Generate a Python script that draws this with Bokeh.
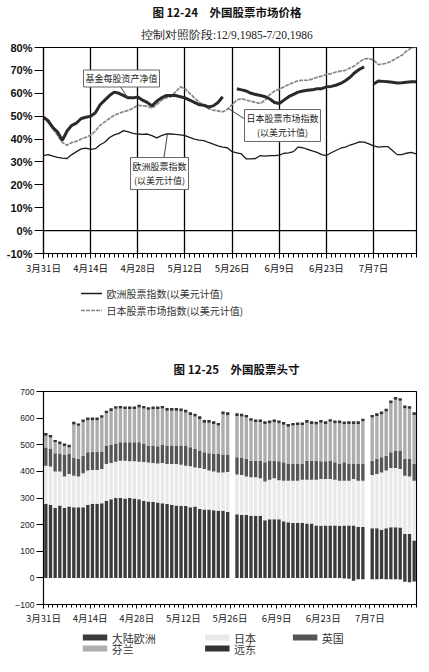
import numpy as np
import pandas as pd
from bokeh.plotting import figure
from bokeh.layouts import column
from bokeh.models import Range1d, FixedTicker, Label, Span
from bokeh.core.properties import value
from bokeh.embed import file_html
from bokeh.resources import INLINE

CJK = "Noto Sans CJK SC"

# ---------------- data ----------------
weekdays = pd.bdate_range("1986-03-31", "1986-07-18")          # 80 weekday slots
us_holidays = pd.to_datetime(["1986-05-26", "1986-07-04"])
tick_dates = pd.to_datetime(["1986-03-31", "1986-04-14", "1986-04-28", "1986-05-12",
                             "1986-05-26", "1986-06-09", "1986-06-23", "1986-07-07"])
tick_labels = ["3月31日", "4月14日", "4月28日", "5月12日", "5月26日", "6月9日", "6月23日", "7月7日"]

# Figure 12-24 (percent), one value per weekday
europe_index = [32.8, 33.2, 32.5, 32.0, 31.7, 31.5, 33.2, 34.5, 35.7, 36.0,
                35.5, 35.8, 37.5, 38.6, 40.7, 41.8, 42.5, 43.7, 43.1, 42.5,
                42.2, 42.0, 42.2, 41.5, 40.5, 41.5, 42.2, 42.2, 42.0, 41.8,
                41.5, 40.7, 40.0, 39.5, 39.3, 38.5, 37.8, 37.0, 36.5, 36.2,
                34.5, 34.0, 33.5, 31.3, 31.3, 31.5, 32.8, 32.5, 32.8, 32.8,
                33.0, 33.8, 34.0, 34.5, 36.5, 36.2, 35.5, 34.8, 34.2, 33.2,
                32.8, 34.0, 35.0, 36.0, 36.5, 37.4, 38.0, 38.8, 38.7, 37.9,
                37.0, 36.5, 36.7, 36.7, 35.0, 33.2, 33.2, 33.8, 34.2, 33.5]
japan_index = [49.6, 47.0, 44.6, 41.5, 38.5, 37.3, 38.5, 39.0, 40.0, 40.8,
               41.7, 43.5, 46.0, 47.5, 49.0, 50.4, 51.2, 52.0, 52.5, 53.5,
               54.8, 54.5, 54.4, 53.5, 55.0, 57.0, 58.0, 58.4, 60.6, 62.8,
               62.0, 60.0, 58.0, 56.2, 54.5, 53.3, 52.6, 52.3, 51.9, 53.0,
               55.0, 57.0, 57.7, 57.0, 56.5, 56.0, 55.5, 57.0, 59.5, 61.0,
               61.8, 62.8, 63.8, 64.7, 65.5, 65.7, 65.7, 66.2, 67.0, 67.5,
               68.3, 68.6, 69.3, 69.7, 70.0, 71.0, 72.0, 73.7, 75.0, 75.2,
               74.5, 72.5, 72.8, 73.3, 74.3, 75.5, 76.6, 78.5, 79.8, 80.3]
nan = float("nan")
fund_nav = [49.6, 48.0, 45.0, 43.0, 39.5, 43.5, 46.0, 47.0, 49.0, 49.5,
            50.0, 51.5, 55.0, 57.0, 59.0, 60.5, 60.0, 59.0, 58.0, 58.0,
            58.4, 57.0, 56.0, 54.5, 56.5, 58.0, 59.0, 59.0, 59.0, 58.5,
            58.0, 57.0, 56.0, 55.0, 54.8, 54.0, 54.5, 56.0, 58.5, nan,
            nan, 62.0, 61.5, 61.0, 60.0, 59.5, 59.0, 58.5, 57.5, 56.0,
            55.5, 57.0, 58.5, 59.5, 60.5, 61.0, 61.3, 61.5, 62.0, 62.0,
            62.8, 63.0, 63.5, 64.3, 65.5, 67.0, 69.0, 70.5, 71.5, nan,
            64.0, 65.4, 65.2, 65.0, 64.8, 64.5, 64.6, 64.8, 65.0, 65.0]

# Figure 12-25 (million USD), one value per US trading day
pos_continental = [278, 275, 262, 272, 262, 268, 265, 265, 265, 275,
                   278, 278, 280, 290, 295, 300, 300, 298, 300, 298,
                   295, 290, 287, 285, 283, 280, 277, 275, 272, 270,
                   270, 265, 268, 259, 257, 257, 254, 252, 252, 247,
                   239, 236, 236, 233, 233, 233, 216, 220, 220, 220,
                   213, 209, 206, 206, 206, 204, 204, 197, 196, 197,
                   197, 197, 195, 197, 197, 197, 191, 191,
                   186, 186, 181, 186, 190, 190, 189, 165, 165, 140]
pos_japan = [143, 143, 138, 128, 119, 122, 119, 116, 128, 128,
             127, 127, 129, 138, 136, 136, 140, 142, 138, 140,
             141, 145, 146, 146, 147, 151, 151, 153, 156, 155,
             151, 154, 147, 154, 152, 146, 146, 144, 144, 151,
             149, 150, 145, 145, 145, 141, 146, 149, 154, 147,
             152, 156, 159, 159, 163, 165, 165, 172, 175, 174,
             174, 172, 170, 168, 168, 174, 174, 174,
             200, 204, 215, 217, 223, 223, 220, 219, 216, 225]
pos_uk = [69, 66, 68, 65, 82, 75, 66, 66, 66, 69,
          69, 69, 66, 69, 68, 69, 69, 69, 71, 71,
          73, 70, 64, 66, 64, 68, 69, 69, 69, 72,
          76, 72, 69, 65, 63, 65, 65, 69, 67, 65,
          65, 64, 66, 62, 62, 66, 72, 71, 66, 71,
          69, 65, 65, 63, 59, 71, 71, 71, 67, 67,
          69, 65, 63, 69, 65, 59, 63, 63,
          54, 57, 57, 56, 59, 65, 69, 63, 66, 63]
pos_finland = [44, 43, 41, 37, 32, 25, 126, 124, 126, 120,
               118, 118, 126, 121, 128, 130, 127, 125, 125, 125,
               131, 131, 134, 137, 140, 137, 131, 131, 131, 129,
               124, 121, 122, 119, 111, 115, 113, 107, 152, 149,
               155, 156, 155, 150, 145, 145, 144, 141, 145, 143,
               141, 138, 142, 146, 146, 143, 138, 136, 145, 140,
               146, 147, 153, 143, 148, 148, 150, 160,
               162, 161, 162, 166, 184, 191, 187, 190, 188, 184]
pos_far_east = [10, 10, 9, 10, 10, 10, 10, 9, 10, 10,
                10, 10, 10, 10, 10, 10, 10, 10, 10, 10,
                10, 10, 10, 10, 10, 10, 10, 10, 10, 10,
                10, 10, 10, 10, 10, 10, 10, 10, 10, 10,
                10, 10, 10, 10, 10, 10, 10, 10, 10, 10,
                10, 10, 10, 10, 10, 10, 10, 10, 10, 10,
                10, 10, 10, 10, 10, 10, 10, 10,
                10, 10, 10, 10, 10, 10, 10, 10, 10, 10]
pos_net_other = [0, 0, 0, 0, 0, 0, 0, 0, 0, 0,
                 0, 0, 0, 0, 0, 0, 0, 0, 0, 0,
                 0, 0, 0, 0, 0, 0, 0, 0, 0, 0,
                 0, 0, 0, 0, 0, 0, 0, 0, 0, 0,
                 0, 0, 0, 0, 0, 0, 0, 0, 0, 0,
                 0, 0, 0, 0, 0, 0, 0, 0, 0, 0,
                 0, 0, 0, -2, -3, -11, -5, -5,
                 -5, -5, -4, -5, -5, -5, -6, -15, -16, -14]
position_names = ["大陆欧洲", "日本", "英国", "芬兰", "远东"]
position_colors = ["#3b3b3b", "#e9e9e9", "#555555", "#adadad", "#333333"]

# ---------------- helpers ----------------
day_pos = np.arange(len(weekdays))
tick_pos = [int(i) for i in weekdays.get_indexer(tick_dates)]
trade_days = weekdays[~weekdays.isin(us_holidays)]
bar_x = weekdays.get_indexer(trade_days) + 0.5
label_over = {t: l for t, l in zip(tick_pos, tick_labels)}

W = 427


def canvas(h):
    p = figure(width=W, height=h, x_range=Range1d(0, W), y_range=Range1d(h, 0),
               toolbar_location=None, output_backend="svg", min_border=0,
               x_axis_type=None, y_axis_type=None)
    p.outline_line_color = None
    p.grid.visible = False
    return p


# header (page y 0..40)
head = canvas(40)
head.text(x=[210], y=[11], text=["图 12-24　外国股票市场价格"], text_font=value(CJK),
          text_font_size=value("11.5px"), text_font_style="bold", text_align="center",
          text_baseline="middle", text_color="#111111")
head.text(x=[210], y=[34], text=["控制对照阶段:12/9,1985-7/20,1986"],
          text_font=value("Liberation Serif"), text_font_size=value("11.5px"),
          text_align="center", text_baseline="middle", text_color="#222222")

# chart 1 (page y 40..280), frame x 43..416, y 47..253
X0, X1 = 0, 79.1
p1 = figure(width=W, height=240, x_range=Range1d(X0, X1), y_range=Range1d(-10, 80),
            toolbar_location=None, output_backend="svg",
            min_border_left=43, min_border_right=W - 416, min_border_top=7, min_border_bottom=27)
p1.xaxis.ticker = FixedTicker(ticks=tick_pos, minor_ticks=list(range(0, 80)))
p1.xaxis.major_label_overrides = label_over
p1.yaxis.ticker = FixedTicker(ticks=list(range(-10, 81, 10)))
p1.yaxis.major_label_overrides = {v: f"{v}%" for v in range(-10, 81, 10)}
p1.xaxis.major_tick_in = 0
p1.xaxis.major_tick_out = 5
p1.xaxis.minor_tick_in = 0
p1.xaxis.minor_tick_out = 4
p1.xaxis.major_label_standoff = 2
p1.xaxis.major_label_text_font = CJK
p1.xaxis.major_label_text_font_size = "9.5px"
p1.yaxis.major_tick_in = 0
p1.yaxis.major_tick_out = 9
p1.yaxis.minor_tick_out = 0
p1.yaxis.major_label_standoff = 2
p1.yaxis.major_label_text_font = "Liberation Sans"
p1.yaxis.major_label_text_font_style = "bold"
p1.yaxis.major_label_text_font_size = "11px"
for ax in (p1.xaxis, p1.yaxis):
    ax.axis_line_color = "black"
    ax.axis_line_width = 1.2
    ax.major_tick_line_color = "black"
    ax.major_label_text_color = "#111111"
p1.xgrid.grid_line_color = "black"
p1.xgrid.grid_line_width = 1.3
p1.ygrid.visible = False
p1.outline_line_color = "black"
p1.outline_line_width = 1.2
p1.add_layout(Span(location=0, dimension="width", line_color="black", line_width=1.3))

p1.line(day_pos, europe_index, line_color="#1c1c1c", line_width=1.3)
p1.line(day_pos, japan_index, line_color="#858585", line_width=1.7, line_dash="4 1")
p1.line(day_pos, np.array(fund_nav, dtype=float), line_color="#2a2a2a", line_width=3)


def t1(X, Y):
    return (X - 43) * (X1 - X0) / 373 + X0, 80 - (Y - 47) * 90 / 206


for (a, b) in [((118, 83), (127, 97)), ((245, 119), (228, 108)), ((163, 160), (167, 133))]:
    xa, ya = t1(*a)
    xb, yb = t1(*b)
    p1.segment(x0=[xa], y0=[ya], x1=[xb], y1=[yb], line_color="#444444", line_width=1)

for (cx, cy), txt in [((121, 78), "基金每股资产净值"),
                      ((282, 125), "日本股票市场指数\n(以美元计值)"),
                      ((159, 173), "欧洲股票指数\n(以美元计值)")]:
    lx, ly = t1(cx, cy)
    p1.add_layout(Label(x=lx, y=ly, text=txt, text_align="center", text_baseline="middle",
                        text_font=CJK, text_font_size="9px", text_color="#222222",
                        text_line_height=1.15,
                        border_line_color="#666666", border_line_width=1,
                        background_fill_color="white", padding=2))

# legend 1 (page y 280..320)
leg1 = canvas(40)
leg1.line([43, 67], [13, 13], line_color="#1c1c1c", line_width=1.5)
leg1.line([43, 67], [30, 30], line_color="#858585", line_width=1.5, line_dash="4 1")
leg1.text(x=[72, 72], y=[13, 30], text=["欧洲股票指数(以美元计值)", "日本股票市场指数(以美元计值)"],
          text_font=value(CJK), text_font_size=value("10px"), text_align="left",
          text_baseline="middle", text_color="#333333")

# title 2 (page y 320..384)
tit2 = canvas(64)
tit2.text(x=[221], y=[48], text=["图 12-25　外国股票头寸"], text_font=value(CJK),
          text_font_size=value("11.5px"), text_font_style="bold", text_align="center",
          text_baseline="middle", text_color="#111111")

# chart 2 (page y 384..628), frame x 43..418, y 391..604
p2 = figure(width=W, height=244, x_range=Range1d(0, 80), y_range=Range1d(-100, 700),
            toolbar_location=None, output_backend="svg",
            min_border_left=43, min_border_right=W - 418, min_border_top=7, min_border_bottom=24)
p2.xaxis.ticker = FixedTicker(ticks=tick_pos, minor_ticks=list(range(0, 81)))
p2.xaxis.major_label_overrides = label_over
p2.yaxis.ticker = FixedTicker(ticks=list(range(-100, 701, 100)))
p2.xaxis.major_tick_in = 0
p2.xaxis.major_tick_out = 4
p2.xaxis.minor_tick_in = 0
p2.xaxis.minor_tick_out = 3
p2.xaxis.major_label_standoff = 2
p2.xaxis.major_label_text_font = CJK
p2.xaxis.major_label_text_font_size = "9.5px"
p2.yaxis.major_tick_in = 0
p2.yaxis.major_tick_out = 7
p2.yaxis.minor_tick_out = 0
p2.yaxis.major_label_standoff = 2
p2.yaxis.major_label_text_font = "Liberation Sans"
p2.yaxis.major_label_text_font_size = "8.5px"
for ax in (p2.xaxis, p2.yaxis):
    ax.axis_line_color = "black"
    ax.axis_line_width = 1.1
    ax.major_tick_line_color = "black"
    ax.major_label_text_color = "#222222"
p2.grid.visible = False
p2.outline_line_color = "black"
p2.outline_line_width = 1.1

series = [pos_continental, pos_japan, pos_uk, pos_finland, pos_far_east]
bottom = np.zeros(len(bar_x))
for vals, col in zip(series, position_colors):
    top = bottom + np.array(vals, dtype=float)
    p2.vbar(x=bar_x, width=0.72, bottom=bottom, top=top, fill_color=col, line_color=None)
    bottom = top
p2.vbar(x=bar_x, width=0.72, bottom=np.array(pos_net_other, dtype=float), top=0,
        fill_color=position_colors[0], line_color=None)

p2.add_layout(Label(x=(10 - 43) * 80 / 375, y=700 - (497 - 391) * 800 / 213, text="百万美元",
                    angle=np.pi / 2, text_align="center", text_baseline="middle",
                    text_font=CJK, text_font_size="12px", text_color="#222222"))

# legend 2 (page y 628..668)
leg2 = canvas(40)
sw_x = [59, 199, 299.5, 59, 199]
sw_y = [9, 9, 9, 20, 20]
leg2.rect(x=sw_x, y=sw_y, width=28, height=6, fill_color=position_colors, line_color=None)
leg2.text(x=[v + 19 for v in sw_x], y=sw_y, text=position_names, text_font=value(CJK),
          text_font_size=value("11px"), text_align="left", text_baseline="middle",
          text_color="#333333")

page = column(head, p1, leg1, tit2, p2, leg2, spacing=0)
open("out.html", "w").write(file_html(page, INLINE, title="外国股票市场"))
